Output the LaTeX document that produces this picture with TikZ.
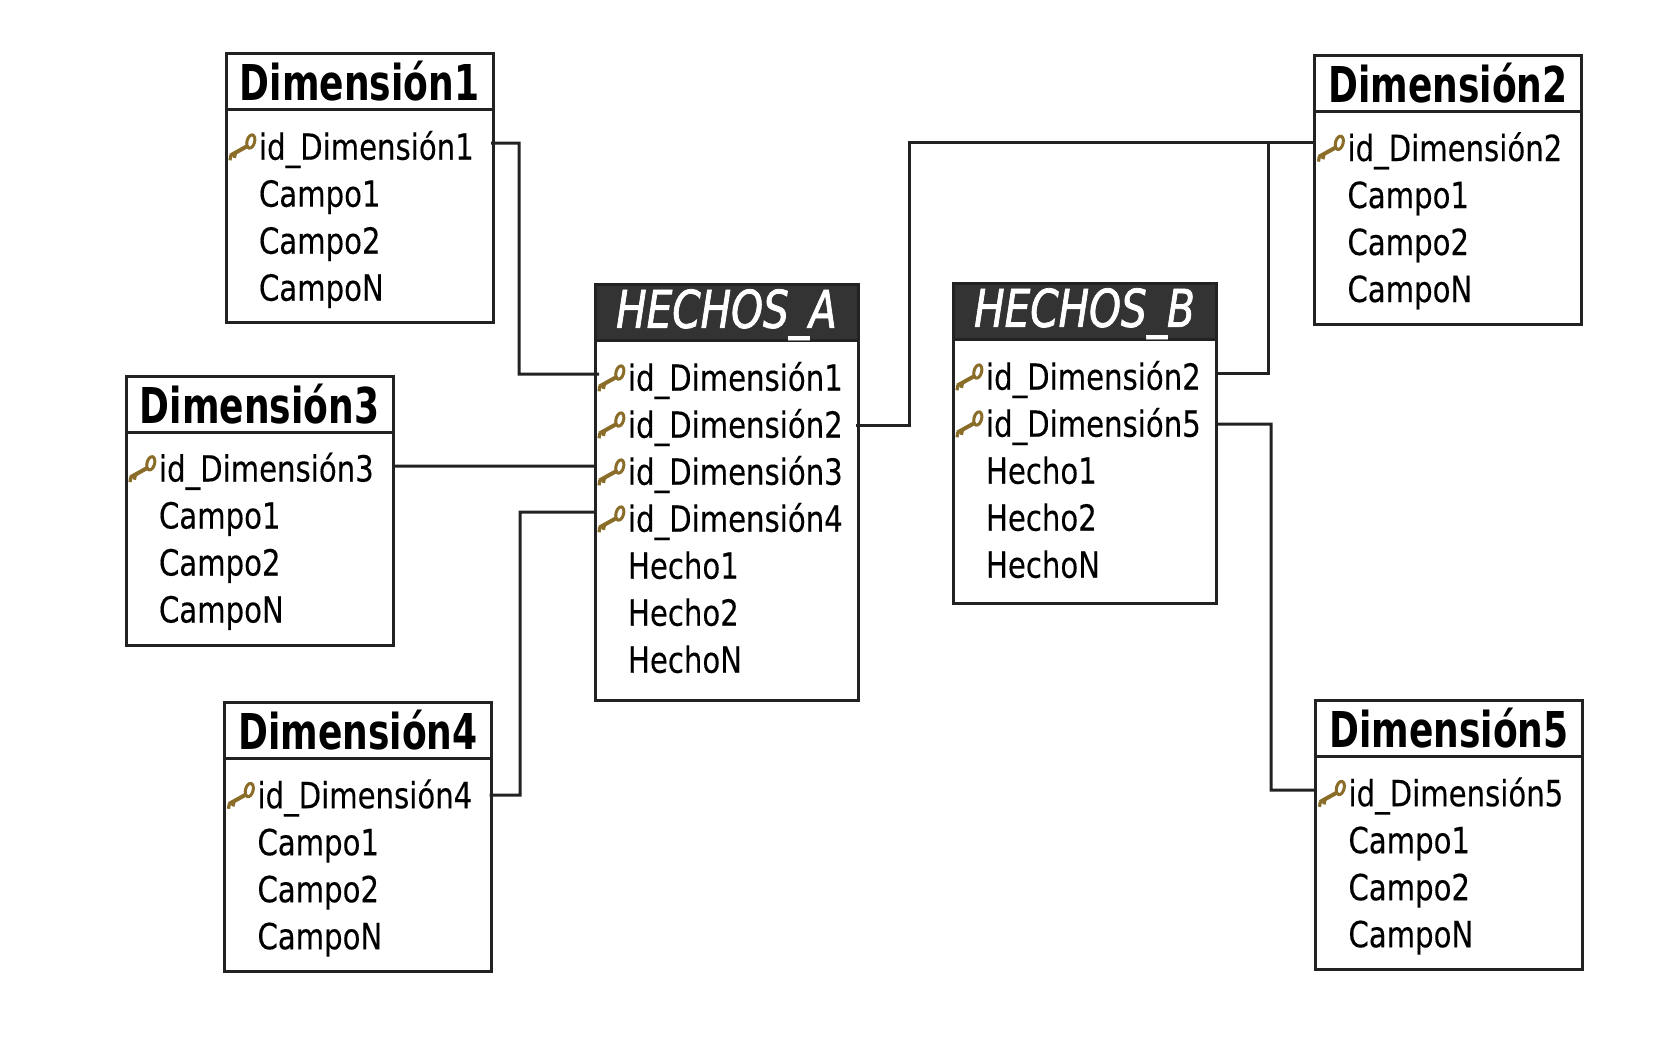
\documentclass[tikz,border=0pt]{standalone}
\usepackage{fontspec}
\setmainfont{DejaVu Sans}
\newfontfamily\rowfont[FakeStretch=0.81,FakeBold=0.25]{DejaVu Sans}
\newfontfamily\dimfont[FakeStretch=0.73]{DejaVu Sans Bold}
\newfontfamily\factfont[FakeStretch=0.78,FakeBold=1.4]{DejaVu Sans Oblique}
\definecolor{linecol}{HTML}{222222}
\definecolor{headdark}{HTML}{333333}
\definecolor{keycol}{HTML}{8A6D28}
\tikzset{
  x=0.5pt, y=-0.5pt,
  tablebody/.style={draw=linecol, line width=1.5pt, fill=white, inner sep=0pt, outer sep=0pt, anchor=north west},
  dimhead/.style={draw=linecol, line width=1.5pt, fill=white, inner sep=0pt, outer sep=0pt, anchor=north west, text=black, font=\dimfont\fontsize{24.7}{26}\selectfont},
  facthead/.style={draw=linecol, line width=1.5pt, fill=headdark, inner sep=0pt, outer sep=0pt, anchor=north west, text=white, font=\factfont\fontsize{26}{28}\selectfont},
  tablerow/.style={inner sep=0pt, outer sep=0pt, anchor=west, align=left, text height=13pt, text depth=0pt, text=black, font=\rowfont\fontsize{18}{20}\selectfont},
  link/.style={draw=linecol, line width=1.5pt, line join=miter},
  keyicon/.pic={
    \draw[keycol, line width=1.5pt, rotate around={-15:(12.4pt,2.6pt)}] (12.4pt,2.6pt) ellipse (1.9pt and 3.4pt);
    \draw[keycol, line width=2pt] (11.2pt,0.6pt) -- (2.2pt,-4.4pt);
    \draw[keycol, line width=1.6pt] (2.4pt,-4.2pt) -- (2.0pt,-6.8pt) (4.8pt,-3pt) -- (4.2pt,-5.6pt);
  }
}
% id, x, y, width(px), height(px), head style, title, first row offset(px), row list
\newcommand{\tablebox}[9]{%
  \node[tablebody, minimum width=#4*0.5pt, minimum height=#5*0.5pt] (#1) at (#2,#3) {};
  \node[#6, minimum width=#4*0.5pt, minimum height=28pt] (#1-h) at (#2,#3) {#7};
  \foreach \kind/\rowtext [count=\r] in {#9} {
    \node[tablerow, text width=#4*0.5pt] (#1-\r) at (#2,#3+#8+47*\r-47) {\hspace*{16.5pt}\rowtext};
    \if\kind k
      \pic at (#1-\r.west) {keyicon};
    \fi
  }
}
\begin{document}
\begin{tikzpicture}
\useasboundingbox (0,0) rectangle (1680,1050);
\fill[white] (0,0) rectangle (1680,1050);
\tablebox{dimA}{226}{53}{267}{269}{dimhead}{Dimensión1}{93.7}{k/id\_Dimensión1,n/Campo1,n/Campo2,n/CampoN}
\tablebox{dimB}{1314.5}{55}{267}{269}{dimhead}{Dimensión2}{93}{k/id\_Dimensión2,n/Campo1,n/Campo2,n/CampoN}
\tablebox{dimC}{126}{376}{267}{269}{dimhead}{Dimensión3}{92.5}{k/id\_Dimensión3,n/Campo1,n/Campo2,n/CampoN}
\tablebox{dimD}{224.5}{702}{267}{269}{dimhead}{Dimensión4}{93.2}{k/id\_Dimensión4,n/Campo1,n/Campo2,n/CampoN}
\tablebox{dimE}{1315.5}{700}{267}{269}{dimhead}{Dimensión5}{93.2}{k/id\_Dimensión5,n/Campo1,n/Campo2,n/CampoN}
\tablebox{factA}{595}{284}{263}{416}{facthead}{\raisebox{-1.4pt}[19pt][6pt]{HECHOS\_A}}{93.7}{k/id\_Dimensión1,k/id\_Dimensión2,k/id\_Dimensión3,k/id\_Dimensión4,n/Hecho1,n/Hecho2,n/HechoN}
\tablebox{factB}{953}{283}{263}{320}{facthead}{\raisebox{-1.4pt}[19pt][6pt]{HECHOS\_B}}{93.7}{k/id\_Dimensión2,k/id\_Dimensión5,n/Hecho1,n/Hecho2,n/HechoN}
% connectors
\draw[link] ([yshift=1.85pt,xshift=-1pt]dimA-1.east) -| (519,374) -- ([yshift=1.85pt,xshift=2pt]factA-1.west);
\draw[link] ([xshift=-1pt,yshift=-0.5pt]factA-2.east) -| (909,142.5) -- ([yshift=2.75pt]dimB-1.west);
\draw[link] ([yshift=1.85pt]factB-1.east) -| (1268,142.5);
\draw[link] ([yshift=1.25pt]dimC-1.east) -- ([yshift=2.8pt]factA-3.west);
\draw[link] ([yshift=0.1pt,xshift=-1pt]dimD-1.east) -| (520,512) -- ([yshift=3.3pt]factA-4.west);
\draw[link] ([yshift=-0.15pt]factB-2.east) -| (1271,790) -- ([yshift=1.6pt]dimE-1.west);
\end{tikzpicture}
\end{document}
